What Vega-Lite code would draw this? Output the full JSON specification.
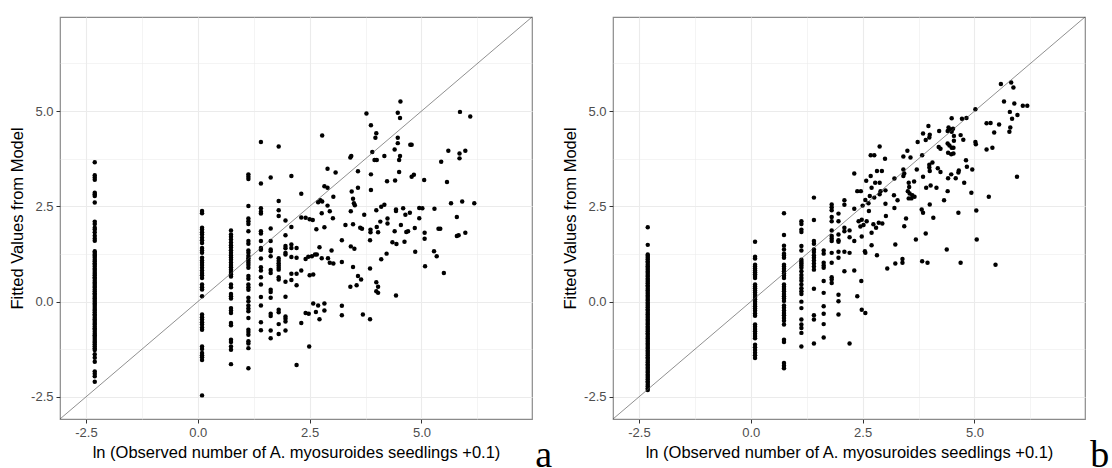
{
  "$schema": "https://vega.github.io/schema/vega-lite/v6.json",
  "background": "white",
  "padding": {"left": 8, "top": 16, "right": 0, "bottom": 0},
  "spacing": 8,
  "config": {
    "font": "Liberation Sans",
    "view": {"stroke": "#8a8a8a", "strokeWidth": 1.2},
    "axis": {
      "labelExpr": "abs(datum.value / 2.5 - round(datum.value / 2.5)) < 0.01 ? replace(format(datum.value, '.1f'), '\u2212', '-') : ''",
      "labelOverlap": false,
      "domain": false,
      "grid": true,
      "gridColor": "#ebebeb",
      "tickColor": "#333333",
      "tickSize": 4,
      "labelColor": "#4d4d4d",
      "labelFont": "Liberation Sans",
      "labelFontSize": 13,
      "labelPadding": 3,
      "titleFont": "Liberation Sans",
      "titleFontSize": 16.5,
      "titleFontWeight": "normal",
      "titleColor": "#000000"
    },
    "axisX": {"titlePadding": 5},
    "axisY": {"titlePadding": 5},
    "title": {"font": "Liberation Serif", "fontSize": 38, "fontWeight": "normal", "color": "#000000"}
  },
  "datasets": {
    "a": [
      {"x":-2.303,"y":3.66},{"x":-2.303,"y":3.32},{"x":-2.303,"y":3.26},{"x":-2.303,"y":3.2},{"x":-2.303,"y":2.86},{"x":-2.303,"y":2.82},{"x":-2.303,"y":2.77},{"x":-2.303,"y":2.6},{"x":-2.303,"y":2.1},{"x":-2.303,"y":2.04},{"x":-2.303,"y":1.94},{"x":-2.303,"y":1.89},{"x":-2.303,"y":1.82},{"x":-2.303,"y":1.73},{"x":-2.303,"y":1.66},{"x":-2.303,"y":1.6},
      {"x":-2.303,"y":1.32},{"x":-2.303,"y":1.28},{"x":-2.303,"y":1.24},{"x":-2.303,"y":1.2},{"x":-2.303,"y":1.15},{"x":-2.303,"y":1.1},{"x":-2.303,"y":1.06},{"x":-2.303,"y":1.01},{"x":-2.303,"y":0.97},{"x":-2.303,"y":0.92},{"x":-2.303,"y":0.87},{"x":-2.303,"y":0.83},{"x":-2.303,"y":0.78},{"x":-2.303,"y":0.73},{"x":-2.303,"y":0.69},{"x":-2.303,"y":0.64},{"x":-2.303,"y":0.6},{"x":-2.303,"y":0.55},{"x":-2.303,"y":0.5},{"x":-2.303,"y":0.46},{"x":-2.303,"y":0.41},{"x":-2.303,"y":0.37},{"x":-2.303,"y":0.32},{"x":-2.303,"y":0.27},{"x":-2.303,"y":0.22},{"x":-2.303,"y":0.18},{"x":-2.303,"y":0.13},{"x":-2.303,"y":0.09},{"x":-2.303,"y":0.04},{"x":-2.303,"y":0.0},{"x":-2.303,"y":-0.05},{"x":-2.303,"y":-0.09},{"x":-2.303,"y":-0.14},{"x":-2.303,"y":-0.19},{"x":-2.303,"y":-0.23},{"x":-2.303,"y":-0.28},{"x":-2.303,"y":-0.33},{"x":-2.303,"y":-0.37},{"x":-2.303,"y":-0.42},{"x":-2.303,"y":-0.46},{"x":-2.303,"y":-0.51},{"x":-2.303,"y":-0.56},{"x":-2.303,"y":-0.6},{"x":-2.303,"y":-0.65},{"x":-2.303,"y":-0.7},{"x":-2.303,"y":-0.74},{"x":-2.303,"y":-0.79},{"x":-2.303,"y":-0.84},{"x":-2.303,"y":-0.88},{"x":-2.303,"y":-0.93},{"x":-2.303,"y":-0.98},{"x":-2.303,"y":-1.03},{"x":-2.303,"y":-1.07},{"x":-2.303,"y":-1.12},{"x":-2.303,"y":-1.17},{"x":-2.303,"y":-1.22},{"x":-2.303,"y":-1.27},{"x":-2.303,"y":-1.38},{"x":-2.303,"y":-1.47},{"x":-2.303,"y":-1.58},{"x":-2.303,"y":-1.83},{"x":-2.303,"y":-1.89},{"x":-2.303,"y":-1.96},{"x":-2.303,"y":-2.1},
      {"x":0.095,"y":2.38},{"x":0.095,"y":2.32},{"x":0.095,"y":1.94},{"x":0.095,"y":1.89},{"x":0.095,"y":1.82},{"x":0.095,"y":1.76},{"x":0.095,"y":1.68},{"x":0.095,"y":1.61},{"x":0.095,"y":1.54},{"x":0.095,"y":1.41},{"x":0.095,"y":1.34},{"x":0.095,"y":1.28},{"x":0.095,"y":1.15},{"x":0.095,"y":1.08},{"x":0.095,"y":1.02},{"x":0.095,"y":0.96},{"x":0.095,"y":0.89},{"x":0.095,"y":0.82},{"x":0.095,"y":0.75},{"x":0.095,"y":0.69},{"x":0.095,"y":0.62},{"x":0.095,"y":0.45},{"x":0.095,"y":0.38},{"x":0.095,"y":0.32},{"x":0.095,"y":0.14},{"x":0.095,"y":-0.34},{"x":0.095,"y":-0.41},{"x":0.095,"y":-0.47},{"x":0.095,"y":-0.54},{"x":0.095,"y":-0.6},{"x":0.095,"y":-0.68},{"x":0.095,"y":-0.74},{"x":0.095,"y":-1.18},{"x":0.095,"y":-1.24},{"x":0.095,"y":-1.35},{"x":0.095,"y":-1.41},{"x":0.095,"y":-1.46},{"x":0.095,"y":-1.53},{"x":0.095,"y":-2.46},
      {"x":0.742,"y":1.87},{"x":0.742,"y":1.76},{"x":0.742,"y":1.7},{"x":0.742,"y":1.63},{"x":0.742,"y":1.55},{"x":0.742,"y":1.48},{"x":0.742,"y":1.42},{"x":0.742,"y":1.35},{"x":0.742,"y":1.28},{"x":0.742,"y":1.22},{"x":0.742,"y":1.16},{"x":0.742,"y":1.1},{"x":0.742,"y":1.03},{"x":0.742,"y":0.96},{"x":0.742,"y":0.9},{"x":0.742,"y":0.84},{"x":0.742,"y":0.78},{"x":0.742,"y":0.72},{"x":0.742,"y":0.66},{"x":0.742,"y":0.45},{"x":0.742,"y":0.38},{"x":0.742,"y":0.2},{"x":0.742,"y":0.14},{"x":0.742,"y":0.08},{"x":0.742,"y":-0.17},{"x":0.742,"y":-0.23},{"x":0.742,"y":-0.3},{"x":0.742,"y":-0.56},{"x":0.742,"y":-0.62},{"x":0.742,"y":-1.0},{"x":0.742,"y":-1.06},{"x":0.742,"y":-1.18},{"x":0.742,"y":-1.26},{"x":0.742,"y":-1.64},
      {"x":1.131,"y":3.34},{"x":1.131,"y":3.28},{"x":1.131,"y":3.22},{"x":1.131,"y":2.51},{"x":1.131,"y":2.18},{"x":1.131,"y":2.11},{"x":1.131,"y":2.04},{"x":1.131,"y":1.85},{"x":1.131,"y":1.59},{"x":1.131,"y":1.52},{"x":1.131,"y":1.34},{"x":1.131,"y":1.28},{"x":1.131,"y":1.2},{"x":1.131,"y":1.14},{"x":1.131,"y":1.08},{"x":1.131,"y":1.02},{"x":1.131,"y":0.96},{"x":1.131,"y":0.89},{"x":1.131,"y":0.67},{"x":1.131,"y":0.6},{"x":1.131,"y":0.45},{"x":1.131,"y":0.38},{"x":1.131,"y":0.31},{"x":1.131,"y":0.1},{"x":1.131,"y":0.01},{"x":1.131,"y":-0.1},{"x":1.131,"y":-0.18},{"x":1.131,"y":-0.25},{"x":1.131,"y":-0.43},{"x":1.131,"y":-0.74},{"x":1.131,"y":-0.8},{"x":1.131,"y":-0.87},{"x":1.131,"y":-1.04},{"x":1.131,"y":-1.1},{"x":1.131,"y":-1.22},{"x":1.131,"y":-1.75},
      {"x":1.411,"y":4.19},{"x":1.411,"y":3.1},{"x":1.411,"y":2.45},{"x":1.411,"y":2.36},{"x":1.411,"y":2.31},{"x":1.411,"y":1.85},{"x":1.411,"y":1.79},{"x":1.411,"y":1.59},{"x":1.411,"y":1.41},{"x":1.411,"y":1.36},{"x":1.411,"y":1.13},{"x":1.411,"y":0.9},{"x":1.411,"y":0.82},{"x":1.411,"y":0.64},{"x":1.411,"y":0.45},{"x":1.411,"y":0.12},{"x":1.411,"y":-0.1},{"x":1.411,"y":-0.54},{"x":1.411,"y":-0.75},
      {"x":1.629,"y":3.26},{"x":1.629,"y":1.92},{"x":1.629,"y":1.59},{"x":1.629,"y":1.37},{"x":1.629,"y":1.32},{"x":1.629,"y":1.19},{"x":1.629,"y":0.83},{"x":1.629,"y":0.75},{"x":1.629,"y":0.31},{"x":1.629,"y":0.25},{"x":1.629,"y":0.1},{"x":1.629,"y":-0.32},{"x":1.629,"y":-0.38},{"x":1.629,"y":-0.76},{"x":1.629,"y":-0.96},
      {"x":1.808,"y":4.07},{"x":1.808,"y":2.64},{"x":1.808,"y":2.4},{"x":1.808,"y":2.25},{"x":1.808,"y":1.14},{"x":1.808,"y":1.07},{"x":1.808,"y":1.01},{"x":1.808,"y":0.95},{"x":1.808,"y":0.89},{"x":1.808,"y":0.84},{"x":1.808,"y":0.64},{"x":1.808,"y":0.58},{"x":1.808,"y":-0.21},{"x":1.808,"y":-0.28},{"x":1.808,"y":-0.59},{"x":1.808,"y":-0.85},
      {"x":1.96,"y":2.13},{"x":1.96,"y":1.74},{"x":1.96,"y":1.46},{"x":1.96,"y":1.4},{"x":1.96,"y":1.28},{"x":1.96,"y":1.24},{"x":1.96,"y":0.52},{"x":1.96,"y":0.13},{"x":1.96,"y":-0.39},{"x":1.96,"y":-0.45},{"x":1.96,"y":-0.52},{"x":1.96,"y":-0.76},
      {"x":2.092,"y":3.3},{"x":2.092,"y":1.96},{"x":2.092,"y":1.5},{"x":2.092,"y":1.41},{"x":2.092,"y":1.17},{"x":2.092,"y":0.73},{"x":2.092,"y":0.57},
      {"x":2.208,"y":1.41},{"x":2.208,"y":1.15},{"x":2.208,"y":0.73},{"x":2.208,"y":0.43},{"x":2.208,"y":-1.66},
      {"x":2.313,"y":2.83},{"x":2.313,"y":2.21},{"x":2.313,"y":0.82},{"x":2.313,"y":-0.56},
      {"x":2.41,"y":2.2},{"x":2.41,"y":1.12},{"x":2.41,"y":-0.3},
      {"x":3.77,"y":4.94},{"x":4.53,"y":5.25},{"x":4.47,"y":4.96},{"x":4.52,"y":4.82},{"x":3.87,"y":4.63},{"x":3.99,"y":4.42},{"x":3.97,"y":4.3},{"x":2.78,"y":4.36},{"x":4.47,"y":4.3},{"x":4.47,"y":4.16},{"x":4.75,"y":4.12},{"x":4.78,"y":4.12},{"x":3.9,"y":3.93},{"x":4.4,"y":3.99},{"x":4.17,"y":3.82},{"x":3.41,"y":3.78},{"x":3.43,"y":3.82},{"x":4.52,"y":3.82},{"x":4.5,"y":3.72},{"x":3.95,"y":3.72},{"x":4.0,"y":3.72},{"x":5.44,"y":3.67},{"x":5.85,"y":3.76},{"x":5.85,"y":3.89},{"x":5.6,"y":3.96},{"x":5.98,"y":3.96},{"x":5.86,"y":4.98},{"x":6.09,"y":4.86},
      {"x":2.9,"y":3.49},{"x":3.08,"y":3.39},{"x":3.58,"y":3.42},{"x":3.87,"y":3.34},{"x":4.5,"y":3.4},{"x":4.83,"y":3.33},{"x":4.78,"y":3.28},{"x":4.41,"y":3.18},{"x":4.23,"y":3.16},{"x":5.06,"y":3.19},{"x":5.57,"y":3.14},{"x":2.83,"y":3.03},{"x":2.9,"y":2.99},{"x":3.58,"y":2.99},{"x":3.87,"y":2.93},{"x":3.44,"y":2.89},{"x":3.03,"y":2.75},{"x":3.47,"y":2.7},{"x":3.49,"y":2.58},{"x":3.51,"y":2.53},{"x":5.66,"y":2.58},{"x":5.91,"y":2.63},{"x":6.18,"y":2.58},{"x":2.74,"y":2.66},{"x":2.69,"y":2.61},{"x":2.78,"y":2.63},{"x":2.9,"y":2.52},{"x":4.1,"y":2.49},{"x":4.17,"y":2.54},{"x":4.43,"y":2.42},{"x":4.43,"y":2.38},{"x":4.59,"y":2.45},{"x":4.95,"y":2.46},{"x":5.02,"y":2.45},{"x":5.29,"y":2.44},{"x":3.42,"y":2.37},{"x":3.99,"y":2.4},{"x":2.95,"y":2.37},
      {"x":2.5,"y":2.16},{"x":2.57,"y":2.14},{"x":2.77,"y":2.32},{"x":3.02,"y":2.19},{"x":3.72,"y":2.28},{"x":4.74,"y":2.33},{"x":4.64,"y":2.28},{"x":4.24,"y":2.18},{"x":4.24,"y":2.05},{"x":4.95,"y":2.19},{"x":5.79,"y":2.22},{"x":2.65,"y":1.9},{"x":2.83,"y":1.95},{"x":3.3,"y":2.01},{"x":3.47,"y":2.03},{"x":3.63,"y":1.94},{"x":3.67,"y":1.91},{"x":3.86,"y":1.89},{"x":3.86,"y":1.82},{"x":4.0,"y":1.96},{"x":4.08,"y":2.1},{"x":4.03,"y":1.82},{"x":4.4,"y":1.85},{"x":4.54,"y":2.01},{"x":4.66,"y":1.83},{"x":4.7,"y":1.85},{"x":4.85,"y":1.93},{"x":5.07,"y":1.81},{"x":5.07,"y":1.65},{"x":5.38,"y":1.91},{"x":5.42,"y":1.91},{"x":5.79,"y":1.72},{"x":5.83,"y":1.74},{"x":5.98,"y":1.81},
      {"x":3.85,"y":1.61},{"x":3.22,"y":1.61},{"x":4.35,"y":1.56},{"x":4.44,"y":1.51},{"x":4.62,"y":1.57},{"x":2.72,"y":1.43},{"x":3.42,"y":1.45},{"x":3.5,"y":1.39},{"x":2.99,"y":1.34},{"x":4.86,"y":1.31},{"x":5.28,"y":1.32},{"x":5.34,"y":1.19},{"x":4.22,"y":1.26},{"x":2.47,"y":1.18},{"x":2.55,"y":1.19},{"x":2.62,"y":1.24},{"x":2.66,"y":1.24},{"x":2.77,"y":1.14},{"x":2.91,"y":1.14},{"x":4.1,"y":1.11},{"x":2.95,"y":1.02},{"x":3.03,"y":1.0},{"x":3.22,"y":1.04},{"x":3.47,"y":0.91},{"x":5.08,"y":0.93},{"x":3.85,"y":0.87},{"x":5.5,"y":0.75},{"x":2.5,"y":0.69},{"x":2.58,"y":0.71},
      {"x":3.22,"y":-0.11},{"x":3.22,"y":-0.36},{"x":3.58,"y":0.67},{"x":3.65,"y":0.58},{"x":3.99,"y":0.51},{"x":4.03,"y":0.39},{"x":3.99,"y":0.27},{"x":4.03,"y":0.23},{"x":3.41,"y":0.39},{"x":3.55,"y":0.43},{"x":4.43,"y":0.16},{"x":2.58,"y":-0.05},{"x":2.69,"y":-0.1},{"x":2.83,"y":-0.05},{"x":2.83,"y":-0.23},{"x":2.48,"y":-0.32},{"x":2.64,"y":-0.27},{"x":2.72,"y":-0.46},{"x":3.69,"y":-0.34},{"x":3.85,"y":-0.46},{"x":2.49,"y":-1.18}
    ],
    "b": [
      {"x":-2.303,"y":1.95},{"x":-2.303,"y":1.49},
      {"x":-2.303,"y":1.24},{"x":-2.303,"y":1.2},{"x":-2.303,"y":1.15},{"x":-2.303,"y":1.11},{"x":-2.303,"y":1.06},{"x":-2.303,"y":1.02},{"x":-2.303,"y":0.97},{"x":-2.303,"y":0.93},{"x":-2.303,"y":0.88},{"x":-2.303,"y":0.84},{"x":-2.303,"y":0.79},{"x":-2.303,"y":0.75},{"x":-2.303,"y":0.7},{"x":-2.303,"y":0.66},{"x":-2.303,"y":0.61},{"x":-2.303,"y":0.57},{"x":-2.303,"y":0.52},{"x":-2.303,"y":0.48},{"x":-2.303,"y":0.43},{"x":-2.303,"y":0.39},{"x":-2.303,"y":0.34},{"x":-2.303,"y":0.3},{"x":-2.303,"y":0.25},{"x":-2.303,"y":0.21},{"x":-2.303,"y":0.16},{"x":-2.303,"y":0.12},{"x":-2.303,"y":0.07},{"x":-2.303,"y":0.03},{"x":-2.303,"y":-0.02},{"x":-2.303,"y":-0.06},{"x":-2.303,"y":-0.11},{"x":-2.303,"y":-0.15},{"x":-2.303,"y":-0.2},{"x":-2.303,"y":-0.24},{"x":-2.303,"y":-0.29},{"x":-2.303,"y":-0.33},{"x":-2.303,"y":-0.38},{"x":-2.303,"y":-0.42},{"x":-2.303,"y":-0.47},{"x":-2.303,"y":-0.51},{"x":-2.303,"y":-0.56},{"x":-2.303,"y":-0.6},{"x":-2.303,"y":-0.65},{"x":-2.303,"y":-0.69},{"x":-2.303,"y":-0.74},{"x":-2.303,"y":-0.78},{"x":-2.303,"y":-0.83},{"x":-2.303,"y":-0.87},{"x":-2.303,"y":-0.92},{"x":-2.303,"y":-0.96},{"x":-2.303,"y":-1.01},{"x":-2.303,"y":-1.05},{"x":-2.303,"y":-1.1},{"x":-2.303,"y":-1.14},{"x":-2.303,"y":-1.19},{"x":-2.303,"y":-1.23},{"x":-2.303,"y":-1.28},{"x":-2.303,"y":-1.32},{"x":-2.303,"y":-1.37},{"x":-2.303,"y":-1.41},{"x":-2.303,"y":-1.46},{"x":-2.303,"y":-1.5},{"x":-2.303,"y":-1.55},{"x":-2.303,"y":-1.59},{"x":-2.303,"y":-1.64},{"x":-2.303,"y":-1.68},{"x":-2.303,"y":-1.73},{"x":-2.303,"y":-1.77},{"x":-2.303,"y":-1.82},{"x":-2.303,"y":-1.86},{"x":-2.303,"y":-1.91},{"x":-2.303,"y":-1.95},{"x":-2.303,"y":-2.0},{"x":-2.303,"y":-2.04},{"x":-2.303,"y":-2.09},{"x":-2.303,"y":-2.13},{"x":-2.303,"y":-2.18},{"x":-2.303,"y":-2.22},{"x":-2.303,"y":-2.27},{"x":-2.303,"y":-2.32},
      {"x":0.095,"y":1.57},{"x":0.095,"y":1.18},{"x":0.095,"y":1.13},{"x":0.095,"y":0.97},{"x":0.095,"y":0.92},{"x":0.095,"y":0.87},{"x":0.095,"y":0.82},{"x":0.095,"y":0.77},{"x":0.095,"y":0.72},{"x":0.095,"y":0.67},{"x":0.095,"y":0.62},{"x":0.095,"y":0.45},{"x":0.095,"y":0.4},{"x":0.095,"y":0.35},{"x":0.095,"y":0.29},{"x":0.095,"y":0.24},{"x":0.095,"y":0.18},{"x":0.095,"y":0.12},{"x":0.095,"y":0.06},{"x":0.095,"y":0.0},{"x":0.095,"y":-0.06},{"x":0.095,"y":-0.12},{"x":0.095,"y":-0.18},{"x":0.095,"y":-0.24},{"x":0.095,"y":-0.31},{"x":0.095,"y":-0.37},{"x":0.095,"y":-0.6},{"x":0.095,"y":-0.66},{"x":0.095,"y":-0.72},{"x":0.095,"y":-0.78},{"x":0.095,"y":-0.84},{"x":0.095,"y":-0.9},{"x":0.095,"y":-0.96},{"x":0.095,"y":-1.13},{"x":0.095,"y":-1.2},{"x":0.095,"y":-1.27},{"x":0.095,"y":-1.34},{"x":0.095,"y":-1.41},{"x":0.095,"y":-1.48},
      {"x":0.742,"y":2.32},{"x":0.742,"y":1.75},{"x":0.742,"y":1.47},{"x":0.742,"y":1.37},{"x":0.742,"y":1.26},{"x":0.742,"y":1.21},{"x":0.742,"y":1.15},{"x":0.742,"y":0.97},{"x":0.742,"y":0.92},{"x":0.742,"y":0.86},{"x":0.742,"y":0.8},{"x":0.742,"y":0.74},{"x":0.742,"y":0.68},{"x":0.742,"y":0.62},{"x":0.742,"y":0.45},{"x":0.742,"y":0.39},{"x":0.742,"y":0.33},{"x":0.742,"y":0.27},{"x":0.742,"y":0.2},{"x":0.742,"y":0.14},{"x":0.742,"y":0.08},{"x":0.742,"y":0.02},{"x":0.742,"y":-0.1},{"x":0.742,"y":-0.16},{"x":0.742,"y":-0.23},{"x":0.742,"y":-0.3},{"x":0.742,"y":-0.36},{"x":0.742,"y":-0.43},{"x":0.742,"y":-0.5},{"x":0.742,"y":-0.6},{"x":0.742,"y":-1.0},{"x":0.742,"y":-1.06},{"x":0.742,"y":-1.61},{"x":0.742,"y":-1.68},{"x":0.742,"y":-1.75},
      {"x":1.131,"y":2.11},{"x":1.131,"y":2.04},{"x":1.131,"y":1.89},{"x":1.131,"y":1.83},{"x":1.131,"y":1.46},{"x":1.131,"y":1.34},{"x":1.131,"y":1.1},{"x":1.131,"y":1.05},{"x":1.131,"y":1.0},{"x":1.131,"y":0.95},{"x":1.131,"y":0.89},{"x":1.131,"y":0.8},{"x":1.131,"y":0.7},{"x":1.131,"y":0.62},{"x":1.131,"y":0.55},{"x":1.131,"y":0.45},{"x":1.131,"y":0.35},{"x":1.131,"y":0.27},{"x":1.131,"y":0.2},{"x":1.131,"y":0.0},{"x":1.131,"y":-0.17},{"x":1.131,"y":-0.47},{"x":1.131,"y":-0.6},{"x":1.131,"y":-0.69},{"x":1.131,"y":-0.82},{"x":1.131,"y":-1.18},
      {"x":1.411,"y":2.73},{"x":1.411,"y":2.14},{"x":1.411,"y":1.59},{"x":1.411,"y":1.52},{"x":1.411,"y":1.37},{"x":1.411,"y":1.3},{"x":1.411,"y":1.22},{"x":1.411,"y":1.15},{"x":1.411,"y":1.08},{"x":1.411,"y":1.0},{"x":1.411,"y":0.92},{"x":1.411,"y":0.84},{"x":1.411,"y":0.34},{"x":1.411,"y":-0.36},{"x":1.411,"y":-0.47},{"x":1.411,"y":-1.1},
      {"x":1.629,"y":1.34},{"x":1.629,"y":1.26},{"x":1.629,"y":1.02},{"x":1.629,"y":0.95},{"x":1.629,"y":0.89},{"x":1.629,"y":0.54},{"x":1.629,"y":0.23},{"x":1.629,"y":-0.12},{"x":1.629,"y":-0.32},{"x":1.629,"y":-0.59},{"x":1.629,"y":-0.94},
      {"x":1.808,"y":2.55},{"x":1.808,"y":2.48},{"x":1.808,"y":2.4},{"x":1.808,"y":2.22},{"x":1.808,"y":2.11},{"x":1.808,"y":1.87},{"x":1.808,"y":1.72},{"x":1.808,"y":1.66},{"x":1.808,"y":1.59},{"x":1.808,"y":1.28},{"x":1.808,"y":1.02},{"x":1.808,"y":0.64},{"x":1.808,"y":0.58},{"x":1.808,"y":0.49},
      {"x":1.96,"y":2.31},{"x":1.96,"y":2.11},{"x":1.96,"y":1.76},{"x":1.96,"y":1.61},{"x":1.96,"y":1.57},{"x":1.96,"y":1.31},{"x":1.96,"y":1.15},{"x":1.96,"y":0.18},{"x":1.96,"y":0.01},{"x":1.96,"y":-0.34},
      {"x":2.092,"y":2.66},{"x":2.092,"y":2.54},{"x":2.092,"y":1.94},{"x":2.092,"y":1.85},{"x":2.092,"y":1.31},{"x":2.092,"y":0.8},
      {"x":2.208,"y":1.87},{"x":2.208,"y":1.69},{"x":2.208,"y":1.28},{"x":2.208,"y":-1.1},
      {"x":2.313,"y":3.36},{"x":2.313,"y":2.44},{"x":2.313,"y":1.59},{"x":2.313,"y":0.82},
      {"x":5.59,"y":5.71},{"x":5.82,"y":5.75},{"x":5.87,"y":5.62},{"x":5.66,"y":5.25},{"x":5.89,"y":5.2},{"x":6.08,"y":5.14},{"x":6.18,"y":5.14},{"x":5.79,"y":4.98},{"x":5.96,"y":4.9},{"x":5.84,"y":4.8},{"x":5.02,"y":5.05},{"x":4.82,"y":4.82},{"x":4.72,"y":4.8},{"x":4.49,"y":4.81},{"x":5.27,"y":4.68},{"x":5.36,"y":4.69},{"x":5.55,"y":4.65},{"x":5.8,"y":4.57},{"x":5.78,"y":4.46},{"x":5.44,"y":4.44},
      {"x":3.97,"y":4.61},{"x":4.21,"y":4.48},{"x":3.85,"y":4.41},{"x":4.42,"y":4.57},{"x":4.46,"y":4.52},{"x":4.49,"y":4.46},{"x":4.52,"y":4.54},{"x":4.0,"y":4.38},{"x":4.4,"y":4.48},{"x":4.69,"y":4.37},{"x":3.99,"y":4.31},{"x":3.91,"y":4.24},{"x":4.54,"y":4.35},{"x":4.54,"y":4.22},{"x":4.75,"y":4.25},{"x":3.73,"y":4.19},{"x":5.02,"y":4.19},{"x":5.03,"y":4.13},{"x":4.2,"y":4.06},{"x":4.24,"y":4.01},{"x":4.4,"y":4.15},{"x":4.44,"y":4.1},{"x":4.49,"y":4.04},{"x":4.53,"y":4.04},{"x":5.4,"y":4.04},{"x":5.27,"y":3.99},{"x":4.41,"y":3.91},{"x":4.48,"y":3.87},{"x":4.53,"y":3.89},
      {"x":2.88,"y":4.07},{"x":3.5,"y":3.96},{"x":3.83,"y":3.84},{"x":2.68,"y":3.84},{"x":2.76,"y":3.84},{"x":3.0,"y":3.75},{"x":3.41,"y":3.81},{"x":3.57,"y":3.78},{"x":4.81,"y":3.71},{"x":4.06,"y":3.65},{"x":3.99,"y":3.59},{"x":4.18,"y":3.5},{"x":3.99,"y":3.52},{"x":4.0,"y":3.43},{"x":4.24,"y":3.4},{"x":4.95,"y":3.47},{"x":4.83,"y":3.54},{"x":4.65,"y":3.44},{"x":4.64,"y":3.39},{"x":3.41,"y":3.47},{"x":3.43,"y":3.36},{"x":3.41,"y":3.3},{"x":2.82,"y":3.43},{"x":2.93,"y":3.43},{"x":2.68,"y":3.3},{"x":3.71,"y":3.47},{"x":3.53,"y":3.12},{"x":3.54,"y":3.01},{"x":3.65,"y":3.15},{"x":3.85,"y":3.28},{"x":4.41,"y":3.24},{"x":4.48,"y":3.34},{"x":4.58,"y":3.24},{"x":4.77,"y":3.12},{"x":3.92,"y":2.99},{"x":4.02,"y":3.05},{"x":4.15,"y":2.99},{"x":4.4,"y":2.9},{"x":4.93,"y":2.86},{"x":5.95,"y":3.28},{"x":3.21,"y":3.23},
      {"x":2.58,"y":3.17},{"x":2.7,"y":2.99},{"x":2.78,"y":3.12},{"x":2.88,"y":3.12},{"x":3.01,"y":2.92},{"x":2.9,"y":2.9},{"x":2.38,"y":2.9},{"x":2.46,"y":2.9},{"x":2.56,"y":2.67},{"x":2.66,"y":2.77},{"x":2.76,"y":2.73},{"x":2.88,"y":2.82},{"x":3.2,"y":2.79},{"x":3.28,"y":2.66},{"x":3.51,"y":2.9},{"x":3.55,"y":2.84},{"x":3.61,"y":2.79},{"x":3.53,"y":2.71},{"x":3.66,"y":2.75},{"x":3.59,"y":2.71},{"x":4.32,"y":2.66},{"x":4.0,"y":2.55},{"x":5.32,"y":2.75},{"x":2.5,"y":2.52},{"x":2.63,"y":2.58},{"x":2.64,"y":2.38},{"x":3.01,"y":2.57},{"x":3.21,"y":2.46},{"x":3.82,"y":2.42},{"x":3.85,"y":2.33},{"x":4.64,"y":2.33},{"x":5.04,"y":2.39},{"x":4.08,"y":2.2},
      {"x":2.41,"y":2.11},{"x":2.48,"y":2.15},{"x":2.45,"y":1.97},{"x":2.52,"y":2.01},{"x":2.59,"y":2.11},{"x":2.74,"y":2.03},{"x":2.86,"y":2.07},{"x":2.94,"y":2.05},{"x":3.02,"y":2.25},{"x":2.8,"y":1.94},{"x":3.43,"y":1.98},{"x":3.47,"y":2.18},{"x":2.48,"y":1.71},{"x":2.7,"y":1.81},{"x":3.91,"y":1.79},{"x":3.69,"y":1.63},{"x":5.05,"y":1.63},{"x":3.23,"y":1.5},{"x":2.7,"y":1.48},{"x":2.55,"y":1.32},{"x":2.56,"y":1.28},{"x":2.82,"y":1.22},{"x":4.38,"y":1.37},{"x":3.39,"y":1.12},{"x":3.39,"y":1.02},{"x":3.23,"y":1.0},{"x":3.05,"y":0.87},{"x":3.83,"y":1.06},{"x":3.95,"y":1.02},{"x":4.69,"y":1.02},{"x":5.47,"y":0.97},{"x":2.47,"y":0.54},{"x":2.38,"y":0.14},{"x":2.48,"y":-0.21},{"x":2.56,"y":-0.3}
    ]
  },
  "hconcat": [
    {
      "width": 472,
      "height": 402,
      "data": {"name": "a"},
      "title": {"text": "a", "orient": "bottom", "anchor": "end", "align": "left", "dx": 3, "baseline": "alphabetic", "offset": 6},
      "layer": [
        {
          "mark": {"type": "circle", "size": 20, "color": "#000000", "opacity": 1},
          "encoding": {
            "x": {"field": "x", "type": "quantitative", "scale": {"domain": [-3.08, 7.47], "nice": false, "zero": false},
                  "axis": {"title": "ln (Observed number of A. myosuroides seedlings +0.1)",
                           "values": [-2.5, -1.25, 0, 1.25, 2.5, 3.75, 5, 6.25],
                           "gridWidth": {"condition": {"test": "abs(datum.value / 2.5 - round(datum.value / 2.5)) < 0.01", "value": 1.1}, "value": 0.55},
                           "tickOpacity": {"condition": {"test": "abs(datum.value / 2.5 - round(datum.value / 2.5)) < 0.01", "value": 1}, "value": 0}}},
            "y": {"field": "y", "type": "quantitative", "scale": {"domain": [-3.08, 7.47], "nice": false, "zero": false},
                  "axis": {"title": "Fitted Values from Model",
                           "values": [-2.5, -1.25, 0, 1.25, 2.5, 3.75, 5, 6.25],
                           "gridWidth": {"condition": {"test": "abs(datum.value / 2.5 - round(datum.value / 2.5)) < 0.01", "value": 1.1}, "value": 0.55},
                           "tickOpacity": {"condition": {"test": "abs(datum.value / 2.5 - round(datum.value / 2.5)) < 0.01", "value": 1}, "value": 0}}}
          }
        },
        {
          "data": {"values": [{}]},
          "mark": {"type": "rule", "color": "#444444", "strokeWidth": 0.6},
          "encoding": {
            "x": {"datum": -3.08, "type": "quantitative"},
            "y": {"datum": -3.08, "type": "quantitative"},
            "x2": {"datum": 7.47},
            "y2": {"datum": 7.47}
          }
        }
      ]
    },
    {
      "width": 472,
      "height": 402,
      "data": {"name": "b"},
      "title": {"text": "b", "orient": "bottom", "anchor": "end", "align": "left", "dx": 5, "baseline": "alphabetic", "offset": 6},
      "layer": [
        {
          "mark": {"type": "circle", "size": 20, "color": "#000000", "opacity": 1},
          "encoding": {
            "x": {"field": "x", "type": "quantitative", "scale": {"domain": [-3.08, 7.47], "nice": false, "zero": false},
                  "axis": {"title": "ln (Observed number of A. myosuroides seedlings +0.1)",
                           "values": [-2.5, -1.25, 0, 1.25, 2.5, 3.75, 5, 6.25],
                           "gridWidth": {"condition": {"test": "abs(datum.value / 2.5 - round(datum.value / 2.5)) < 0.01", "value": 1.1}, "value": 0.55},
                           "tickOpacity": {"condition": {"test": "abs(datum.value / 2.5 - round(datum.value / 2.5)) < 0.01", "value": 1}, "value": 0}}},
            "y": {"field": "y", "type": "quantitative", "scale": {"domain": [-3.08, 7.47], "nice": false, "zero": false},
                  "axis": {"title": "Fitted Values from Model",
                           "values": [-2.5, -1.25, 0, 1.25, 2.5, 3.75, 5, 6.25],
                           "gridWidth": {"condition": {"test": "abs(datum.value / 2.5 - round(datum.value / 2.5)) < 0.01", "value": 1.1}, "value": 0.55},
                           "tickOpacity": {"condition": {"test": "abs(datum.value / 2.5 - round(datum.value / 2.5)) < 0.01", "value": 1}, "value": 0}}}
          }
        },
        {
          "data": {"values": [{}]},
          "mark": {"type": "rule", "color": "#444444", "strokeWidth": 0.6},
          "encoding": {
            "x": {"datum": -3.08, "type": "quantitative"},
            "y": {"datum": -3.08, "type": "quantitative"},
            "x2": {"datum": 7.47},
            "y2": {"datum": 7.47}
          }
        }
      ]
    }
  ]
}
